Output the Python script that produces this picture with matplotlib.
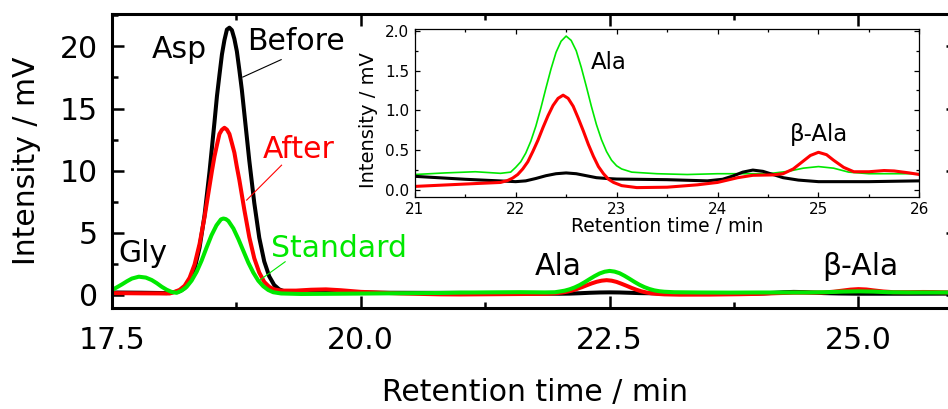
import matplotlib
matplotlib.use("Agg")
import matplotlib.pyplot as plt
from matplotlib.ticker import MultipleLocator, FormatStrFormatter

# chromatogram traces (retention time in min, signal in mV)
before_t = [17.50, 17.80, 18.05, 18.18, 18.23, 18.28, 18.33, 18.38, 18.43, 18.48,
            18.53, 18.555, 18.58, 18.605, 18.63, 18.655, 18.68, 18.705, 18.73, 18.755,
            18.78, 18.805, 18.83, 18.88, 18.93, 18.98,
            19.03, 19.08, 19.13, 19.18, 19.23, 19.30, 19.45, 19.60, 19.75, 19.90,
            20.20, 20.60, 21.00, 21.50, 22.00, 22.10, 22.20, 22.30, 22.40, 22.50,
            22.60, 22.70, 22.80, 22.90, 23.00, 23.50, 23.90, 24.05, 24.15, 24.25,
            24.35, 24.45, 24.55, 24.65, 24.80, 25.00, 25.50, 26.00]
before_mv = [0.20, 0.18, 0.15, 0.30, 0.54, 1.07, 2.10, 3.80, 6.40, 9.90,
             13.9, 16.0, 17.7, 19.35, 20.5, 21.35, 21.5, 21.3, 20.6, 19.6,
             18.1, 16.5, 14.6, 10.8, 7.4, 4.6,
             2.7, 1.5, 0.8, 0.45, 0.30, 0.25, 0.28, 0.35, 0.30, 0.22,
             0.18, 0.17, 0.167, 0.13, 0.10, 0.11, 0.14, 0.175, 0.20, 0.21,
             0.20, 0.175, 0.15, 0.14, 0.133, 0.125, 0.11, 0.13, 0.17, 0.22,
             0.246, 0.23, 0.19, 0.15, 0.12, 0.10, 0.10, 0.11]

after_t = [17.50, 17.80, 18.08, 18.13, 18.18, 18.23, 18.28, 18.33, 18.38, 18.43,
           18.48, 18.505, 18.53, 18.555, 18.58, 18.605, 18.63, 18.655, 18.68, 18.705,
           18.73, 18.755, 18.78, 18.83, 18.88, 18.93,
           18.98, 19.03, 19.08, 19.13, 19.20, 19.35, 19.50, 19.65, 19.80, 20.00,
           20.40, 20.80, 21.00, 21.50, 21.85, 21.92, 21.97, 22.02, 22.07, 22.12,
           22.17, 22.22, 22.27, 22.32, 22.37, 22.42, 22.47, 22.52, 22.57, 22.62,
           22.67, 22.72, 22.77, 22.82, 22.87, 22.92, 22.97, 23.05, 23.20, 23.50,
           23.80, 24.00, 24.20, 24.35, 24.55, 24.65, 24.75, 24.85, 24.92, 25.00,
           25.08, 25.15, 25.25, 25.35, 25.50, 25.65, 25.75, 25.90, 26.00]
after_mv = [0.15, 0.13, 0.12, 0.25, 0.41, 0.74, 1.38, 2.45, 4.10, 6.25,
            8.75, 10.0, 11.15, 12.07, 12.95, 13.29, 13.45, 13.3, 12.95, 12.21,
            11.45, 10.3, 9.25, 6.85, 4.65, 2.95,
            1.80, 1.05, 0.65, 0.45, 0.35, 0.35, 0.42, 0.45, 0.38, 0.25,
            0.12, 0.05, 0.04, 0.07, 0.09, 0.115, 0.145, 0.19, 0.26, 0.35,
            0.48, 0.62, 0.78, 0.93, 1.06, 1.15, 1.19, 1.15, 1.05, 0.90,
            0.74, 0.57, 0.42, 0.29, 0.20, 0.13, 0.09, 0.05, 0.025, 0.03,
            0.06, 0.09, 0.15, 0.18, 0.185, 0.20, 0.26, 0.36, 0.43, 0.47,
            0.44, 0.37, 0.28, 0.225, 0.225, 0.24, 0.235, 0.21, 0.19]

standard_t = [17.50, 17.55, 17.60, 17.65, 17.70, 17.77, 17.84, 17.90, 17.95, 18.00,
              18.05, 18.10, 18.15, 18.20, 18.25, 18.30, 18.35, 18.40, 18.45, 18.50,
              18.55, 18.595, 18.62, 18.645, 18.67, 18.72, 18.77, 18.82, 18.87, 18.92,
              18.97, 19.02,
              19.07, 19.12, 19.20, 19.40, 19.80, 20.30, 20.80, 21.00, 21.30, 21.60,
              21.85, 21.95, 22.00, 22.05, 22.10, 22.15, 22.20, 22.25, 22.30, 22.35,
              22.40, 22.45, 22.50, 22.55, 22.60, 22.65, 22.70, 22.75, 22.80, 22.85,
              22.90, 22.95, 23.00, 23.05, 23.15, 23.40, 23.70, 24.00, 24.50, 24.70,
              24.85, 25.00, 25.15, 25.30, 25.50, 26.00]
standard_mv = [0.40, 0.62, 0.85, 1.10, 1.32, 1.47, 1.40, 1.20, 0.95, 0.66,
               0.42, 0.24, 0.17, 0.35, 0.65, 1.15, 1.85, 2.75, 3.80, 4.80,
               5.60, 6.08, 6.15, 6.10, 5.95, 5.35, 4.50, 3.55, 2.60, 1.80,
               1.15, 0.70,
               0.40, 0.22, 0.12, 0.08, 0.10, 0.13, 0.16, 0.19, 0.21, 0.225,
               0.205, 0.22, 0.28, 0.35, 0.46, 0.61, 0.80, 1.03, 1.28, 1.52,
               1.73, 1.87, 1.935, 1.88, 1.75, 1.54, 1.30, 1.05, 0.82, 0.63,
               0.48, 0.37, 0.30, 0.26, 0.22, 0.20, 0.19, 0.20, 0.20, 0.23,
               0.27, 0.29, 0.27, 0.22, 0.20, 0.20]

black = "black"
red = "#ff0000"
green = "#00e800"

fig = plt.figure(figsize=(9.48, 4.09), dpi=100)

# main chromatogram
ax = fig.add_axes([0.1181, 0.2469, 0.8924, 0.7188])
ax.plot(before_t, before_mv, color=black, lw=2.9, solid_joinstyle="round")
ax.plot(after_t, after_mv, color=red, lw=2.9, solid_joinstyle="round")
ax.plot(standard_t, standard_mv, color=green, lw=2.9, solid_joinstyle="round")
ax.set_xlim(17.5, 26.0)
ax.set_ylim(-1.05, 22.6)
ax.xaxis.set_major_locator(MultipleLocator(2.5))
ax.xaxis.set_minor_locator(MultipleLocator(1.25))
ax.xaxis.set_major_formatter(FormatStrFormatter("%.1f"))
ax.yaxis.set_major_locator(MultipleLocator(5))
ax.yaxis.set_minor_locator(MultipleLocator(2.5))
ax.tick_params(which="both", direction="in", top=True, right=True, width=1.8)
ax.tick_params(which="major", length=8.5)
ax.tick_params(which="minor", length=4.5)
ax.tick_params(axis="x", which="major", labelsize=21.5, pad=13)
ax.tick_params(axis="y", which="major", labelsize=21.5, pad=10)
for s in ax.spines.values():
    s.set_linewidth(2.2)
ax.set_xlabel("Retention time / min", fontsize=21.5)
ax.xaxis.label.set_va("baseline")
ax.xaxis.set_label_coords(0.5, -0.315)
ax.set_ylabel("Intensity / mV", fontsize=21.5)
ax.yaxis.label.set_va("center")
ax.yaxis.set_label_coords(-0.1005, 0.5)

fs = 21.5
ax.text(17.90, 19.1, "Asp", fontsize=fs, color=black)
ax.text(18.855, 19.68, "Before", fontsize=fs, color=black)
ax.plot([19.20, 18.815], [18.93, 17.53], color=black, lw=0.8)
ax.text(19.016, 11.0, "After", fontsize=fs, color=red)
ax.plot([19.204, 18.853], [10.44, 7.63], color=red, lw=0.8)
ax.text(19.10, 3.08, "Standard", fontsize=fs, color=green)
ax.plot([19.24, 18.986], [2.67, 1.2], color=green, lw=0.8)
ax.text(17.563, 2.67, "Gly", fontsize=fs, color=black)
ax.text(21.747, 1.6, "Ala", fontsize=fs, color=black)
ax.text(24.64, 1.6, "β-Ala", fontsize=fs, color=black)

# zoomed view of the Ala / beta-Ala region
ins = fig.add_axes([0.4375, 0.519, 0.5323, 0.4093])
ins.plot(standard_t, standard_mv, color=green, lw=1.2)
ins.plot(before_t, before_mv, color=black, lw=2.2)
ins.plot(after_t, after_mv, color=red, lw=2.2)
ins.set_xlim(21, 26)
ins.set_ylim(-0.09, 2.02)
ins.xaxis.set_major_locator(MultipleLocator(1))
ins.xaxis.set_minor_locator(MultipleLocator(0.5))
ins.yaxis.set_major_locator(MultipleLocator(0.5))
ins.yaxis.set_minor_locator(MultipleLocator(0.25))
ins.yaxis.set_major_formatter(FormatStrFormatter("%.1f"))
ins.tick_params(which="both", direction="in", top=True, right=True, width=0.9)
ins.tick_params(which="major", length=3.5)
ins.tick_params(which="minor", length=2)
ins.tick_params(axis="x", which="major", labelsize=11, pad=4)
ins.tick_params(axis="y", which="major", labelsize=11, pad=4)
for s in ins.spines.values():
    s.set_linewidth(0.9)
ins.set_xlabel("Retention time / min", fontsize=13.5)
ins.xaxis.label.set_va("baseline")
ins.xaxis.set_label_coords(0.5, -0.21)
ins.set_ylabel("Intensity / mV", fontsize=14)
ins.yaxis.label.set_va("center")
ins.yaxis.set_label_coords(-0.0925, 0.455)
ins.text(22.74, 1.518, "Ala", fontsize=16.5, color=black)
ins.text(24.716, 0.613, "β-Ala", fontsize=16.5, color=black)

fig.savefig("out.png", dpi=100)
